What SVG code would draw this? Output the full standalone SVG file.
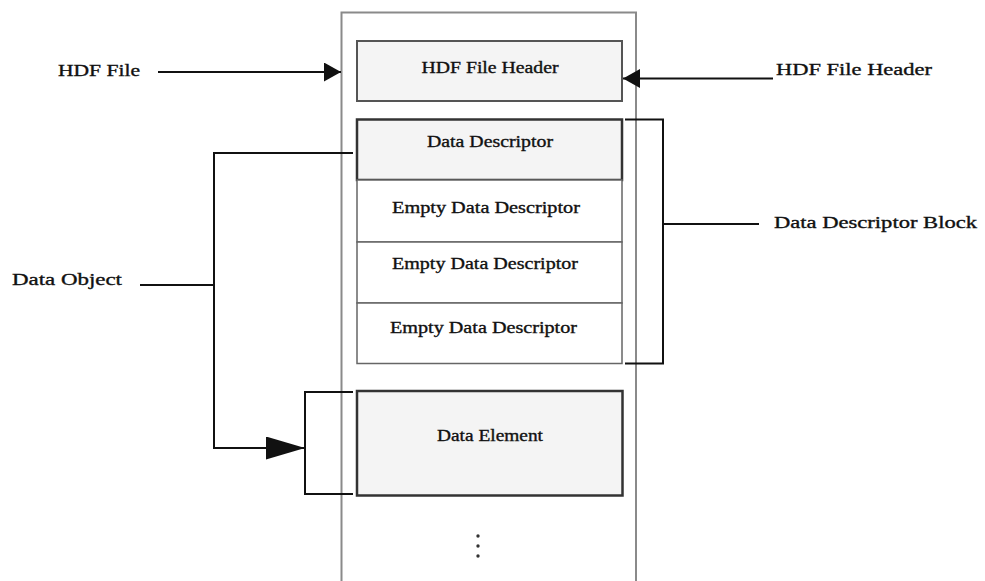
<svg xmlns="http://www.w3.org/2000/svg" width="985" height="581" viewBox="0 0 985 581">
  <style>
    text { font-family: "Liberation Serif", "Times New Roman", serif; font-size: 16.5px; fill: #111; stroke: #111; stroke-width: 0.35; }
    .frame { fill: none; stroke: #8a8a8a; stroke-width: 2; }
    .box-strong { fill: #f4f4f4; stroke: #333; stroke-width: 2.5; }
    .box-header { fill: #f4f4f4; stroke: #555; stroke-width: 2; }
    .box-empty { fill: #ffffff; stroke: #666; stroke-width: 1.5; }
    .wire { fill: none; stroke: #111; stroke-width: 2; }
    .dot { fill: #333; }
  </style>
  <defs>
    <marker id="arrow" markerUnits="userSpaceOnUse" markerWidth="18" markerHeight="20" refX="17" refY="9.5" orient="auto">
      <path d="M0,0 L17,9.5 L0,19 Z" fill="#111"/>
    </marker>
    <marker id="arrow-big" markerUnits="userSpaceOnUse" markerWidth="40" markerHeight="24" refX="39" refY="11.5" orient="auto">
      <path d="M0,0 L39,11.5 L0,23 Z" fill="#111"/>
    </marker>
  </defs>

  <rect width="985" height="581" fill="#ffffff"/>

  <!-- file container (open at the bottom) -->
  <g id="hdf-file-container">
    <path class="frame" d="M341.5,590 V12.5 H636 V590"/>
  </g>

  <g id="node-file-header">
    <rect class="box-header" x="357" y="41" width="265" height="60"/>
    <text x="421.5" y="73" textLength="137" lengthAdjust="spacingAndGlyphs">HDF File Header</text>
  </g>

  <g id="node-data-descriptor">
    <rect class="box-strong" x="357" y="119.5" width="265" height="60.5"/>
    <text x="427" y="147" textLength="126" lengthAdjust="spacingAndGlyphs">Data Descriptor</text>
  </g>

  <g id="node-empty-1">
    <rect class="box-empty" x="357" y="180" width="265" height="62"/>
    <text x="392" y="213" textLength="188" lengthAdjust="spacingAndGlyphs">Empty Data Descriptor</text>
  </g>

  <g id="node-empty-2">
    <rect class="box-empty" x="357" y="242" width="265" height="61"/>
    <text x="392" y="269" textLength="186" lengthAdjust="spacingAndGlyphs">Empty Data Descriptor</text>
  </g>

  <g id="node-empty-3">
    <rect class="box-empty" x="357" y="303" width="265" height="60.5"/>
    <text x="390" y="333" textLength="187" lengthAdjust="spacingAndGlyphs">Empty Data Descriptor</text>
  </g>

  <g id="node-data-element">
    <rect class="box-strong" x="357" y="391" width="265.5" height="104.5"/>
    <text x="437" y="441" textLength="106" lengthAdjust="spacingAndGlyphs">Data Element</text>
  </g>

  <g id="continuation">
    <circle class="dot" cx="478" cy="536" r="1.7"/>
    <circle class="dot" cx="478" cy="546" r="1.7"/>
    <circle class="dot" cx="478" cy="556" r="1.7"/>
  </g>

  <!-- labels outside the file -->
  <g id="label-hdf-file">
    <text x="58" y="76" textLength="82" lengthAdjust="spacingAndGlyphs">HDF File</text>
  </g>
  <g id="label-file-header">
    <text x="776" y="74.5" textLength="156" lengthAdjust="spacingAndGlyphs">HDF File Header</text>
  </g>
  <g id="label-data-object">
    <text x="12" y="285" textLength="110" lengthAdjust="spacingAndGlyphs">Data Object</text>
  </g>
  <g id="label-descriptor-block">
    <text x="774" y="228" textLength="203" lengthAdjust="spacingAndGlyphs">Data Descriptor Block</text>
  </g>

  <g id="connectors">
    <!-- HDF File -> container -->
    <path class="wire" d="M158,72 H341" marker-end="url(#arrow)"/>
    <!-- header label -> header box -->
    <path class="wire" d="M773,78.5 H623" marker-end="url(#arrow)"/>
    <!-- data object: descriptor and element -->
    <path class="wire" d="M140,285 H214"/>
    <path class="wire" d="M353,153 H214 V448 H305" marker-end="url(#arrow-big)"/>
    <!-- bracket round the data element -->
    <path class="wire" d="M353,392 H305 V494 H353"/>
    <!-- bracket round the descriptor block -->
    <path class="wire" d="M625,119.5 H663 V363.5 H625"/>
    <path class="wire" d="M663,224 H759"/>
  </g>
</svg>
